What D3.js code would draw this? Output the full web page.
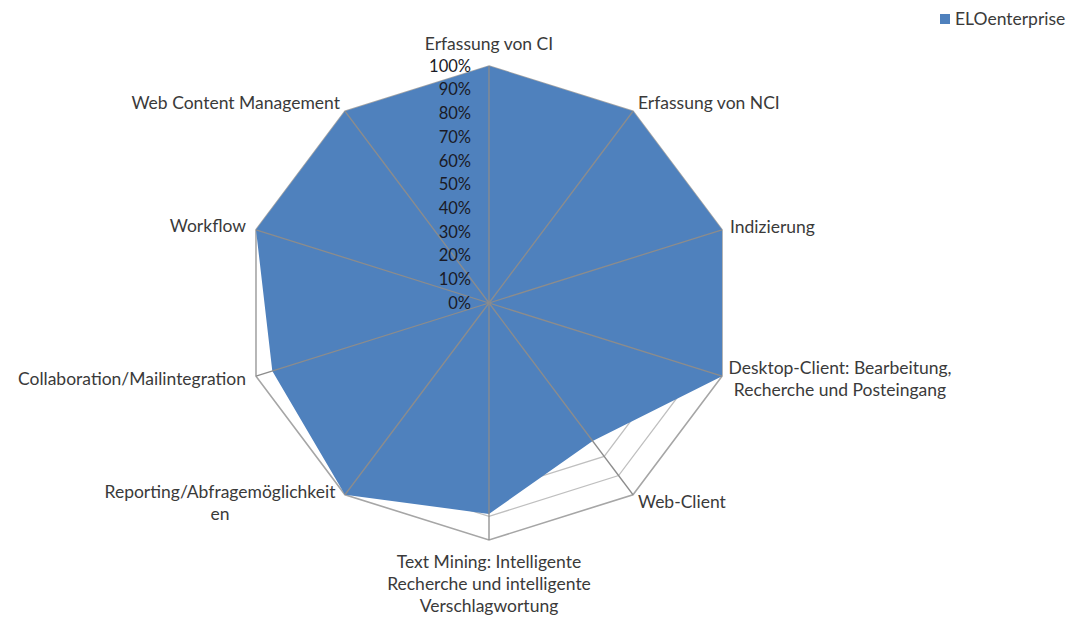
<!DOCTYPE html>
<html>
<head>
<meta charset="utf-8">
<script src="https://cdn.jsdelivr.net/npm/d3@7/dist/d3.min.js"></script>
<style>
  html, body { margin: 0; padding: 0; background: #ffffff; }
  svg { display: block; }
  text { font-family: Lato, "Open Sans", sans-serif; }
</style>
</head>
<body>
<svg id="chart" width="1069" height="619"></svg>
<script>
// ---- data ----
const categories = [
  ["Erfassung von CI"],
  ["Erfassung von NCI"],
  ["Indizierung"],
  ["Desktop-Client: Bearbeitung,", "Recherche und Posteingang"],
  ["Web-Client"],
  ["Text Mining: Intelligente", "Recherche und intelligente", "Verschlagwortung"],
  ["Reporting/Abfragemöglichkeit", "en"],
  ["Collaboration/Mailintegration"],
  ["Workflow"],
  ["Web Content Management"]
];
const seriesName = "ELOenterprise";
const seriesValues = [1.0, 1.0, 1.0, 1.0, 0.72, 0.89, 1.0, 0.93, 1.0, 1.0];
const tickValues = [0, 0.1, 0.2, 0.3, 0.4, 0.5, 0.6, 0.7, 0.8, 0.9, 1.0];
const tickLabels = ["0%", "10%", "20%", "30%", "40%", "50%", "60%", "70%", "80%", "90%", "100%"];

// ---- layout ----
const cx = 489, cy = 303, rx = 245, ry = 237;
const fillColor = "#4f81bd";
const fontSize = 17.5;
// label layout per category: anchor, dx, dy (from outer vertex)
const labelLayout = [
  {anchor: "middle", dx: 0,   dy: -22},
  {anchor: "start",  dx: 5,   dy: -8},
  {anchor: "start",  dx: 8,   dy: -3},
  {anchor: "middle", dx: 118, dy: 3},
  {anchor: "start",  dx: 5,   dy: 7},
  {anchor: "middle", dx: 0,   dy: 22},
  {anchor: "middle", dx: -125, dy: 8},
  {anchor: "end",    dx: -10, dy: 3},
  {anchor: "end",    dx: -10, dy: -4},
  {anchor: "end",    dx: -5,  dy: -8}
];
const lineH = 22;

const svg = d3.select("#chart");
const n = categories.length;
const angle = d3.scaleLinear().domain([0, n]).range([0, 2 * Math.PI]);
const xs = d3.scaleLinear().domain([-1, 1]).range([cx - rx, cx + rx]);
const ys = d3.scaleLinear().domain([-1, 1]).range([cy + ry, cy - ry]);
const pt = (i, v) => [xs(v * Math.sin(angle(i))), ys(v * Math.cos(angle(i)))];

const lineGen = d3.line().curve(d3.curveLinearClosed);

// gridlines (below fill)
const grid = svg.append("g");
tickValues.filter(v => v > 0).forEach(v => {
  grid.append("path")
    .attr("d", lineGen(d3.range(n).map(i => pt(i, v))))
    .attr("fill", "none")
    .attr("stroke", v === 1 ? "#a6a6a6" : "#bfbfbf")
    .attr("stroke-width", v === 1 ? 1.6 : 1.3);
});

// series fill
svg.append("path")
  .attr("d", lineGen(seriesValues.map((v, i) => pt(i, v))))
  .attr("fill", fillColor)
  .attr("stroke", "none");

// spokes (on top)
const spokes = svg.append("g");
d3.range(n).forEach(i => {
  const p = pt(i, 1);
  spokes.append("line")
    .attr("x1", cx).attr("y1", cy)
    .attr("x2", p[0]).attr("y2", p[1])
    .attr("stroke", "#8c8c8c")
    .attr("stroke-width", 1.3);
});

// tick labels
svg.append("g").selectAll("text")
  .data(tickValues)
  .join("text")
  .attr("x", cx - 18)
  .attr("y", d => ys(d))
  .attr("dy", "0.35em")
  .attr("text-anchor", "end")
  .attr("font-size", 16.5)
  .attr("fill", "#1a1a26")
  .text((d, i) => tickLabels[i]);

// category labels
categories.forEach((lines, i) => {
  const p = pt(i, 1);
  const L = labelLayout[i];
  const t = svg.append("text")
    .attr("text-anchor", L.anchor)
    .attr("font-size", fontSize)
    .attr("fill", "#3a3a3a");
  const offset = i === 5 ? 0 : -(lines.length - 1) / 2 * lineH;
  lines.forEach((s, j) => {
    t.append("tspan")
      .attr("x", p[0] + L.dx)
      .attr("y", p[1] + L.dy + offset + j * lineH)
      .attr("dy", "0.35em")
      .text(s);
  });
});

// legend
const lg = svg.append("g");
lg.append("rect").attr("x", 940).attr("y", 14).attr("width", 10).attr("height", 10).attr("fill", fillColor);
lg.append("text").attr("x", 955).attr("y", 19).attr("dy", "0.35em")
  .attr("font-size", fontSize).attr("fill", "#3a3a3a").text(seriesName);
</script>
</body>
</html>
